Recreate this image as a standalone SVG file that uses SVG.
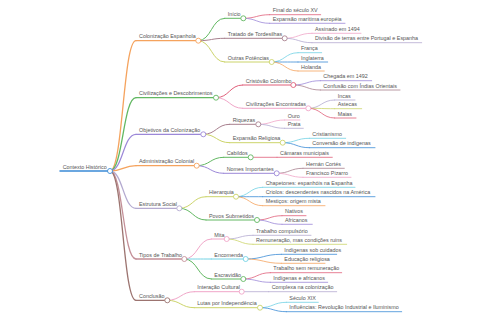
<svg xmlns="http://www.w3.org/2000/svg" width="480" height="320" viewBox="0 0 480 320">
<style>
text{font-family:"Liberation Sans",Arial,sans-serif;font-size:5.4px;fill:#555}
path,line{fill:none;stroke-linecap:round}
circle{fill:#fff;stroke-width:0.9}
.l1{stroke-width:1.3}.l2{stroke-width:1}.l3{stroke-width:0.8}
.bl{stroke:#3b8bd6}.or{stroke:#f5a35e}.gr{stroke:#62b862}.rd{stroke:#e0607a}.pu{stroke:#9c88d8}
.br{stroke:#a8808e}.pk{stroke:#f0a6c8}.gy{stroke:#b4aad0}.ol{stroke:#ccd46a}.cy{stroke:#72d2e4}
.tb{stroke:#c49098}.cb{stroke:#9c7470}
</style>
<rect width="480" height="320" fill="#fff"/>
<g id="connectors">
<path class="l1 or" d="M110 171C123 171 123 40.7 136 40.7"/>
<path class="l1 gr" d="M110 171C123 171 123 97.7 136 97.7"/>
<path class="l1 pu" d="M110 171C123 171 123 134.3 136 134.3"/>
<path class="l1 or" d="M110 171C123 171 123 165.7 136 165.7"/>
<path class="l1 gy" d="M110 171C123 171 123 208.3 136 208.3"/>
<path class="l1 tb" d="M110 171C123 171 123 259 136 259"/>
<path class="l1 cb" d="M110 171C123 171 123 300.3 136 300.3"/>
<path class="l2 gr" d="M198.3 40.7C211.5 40.7 211.5 18.3 224.7 18.3"/>
<path class="l2 br" d="M198.3 40.7C211.5 40.7 211.5 38.3 224.7 38.3"/>
<path class="l2 ol" d="M198.3 40.7C211.5 40.7 211.5 62 224.7 62"/>
<path class="l2 rd" d="M216 97.7C229.4 97.7 229.4 85 242.7 85"/>
<path class="l2 pk" d="M216 97.7C229.4 97.7 229.4 108.3 242.7 108.3"/>
<path class="l2 br" d="M203.3 134.3C216.5 134.3 216.5 124.3 229.7 124.3"/>
<path class="l2 ol" d="M203.3 134.3C216.5 134.3 216.5 142.7 229.7 142.7"/>
<path class="l2 gr" d="M196.7 165.7C210.2 165.7 210.2 157.3 223.7 157.3"/>
<path class="l2 pu" d="M196.7 165.7C210.2 165.7 210.2 173.3 223.7 173.3"/>
<path class="l2 ol" d="M179.3 208.3C192.7 208.3 192.7 196.7 206 196.7"/>
<path class="l2 gr" d="M179.3 208.3C192.7 208.3 192.7 220 206 220"/>
<path class="l2 pk" d="M184.3 259C197.8 259 197.8 239 211.3 239"/>
<path class="l2 cy" d="M184.3 259C197.8 259 197.8 259 211.3 259"/>
<path class="l2 gr" d="M184.3 259C197.8 259 197.8 279 211.3 279"/>
<path class="l2 pk" d="M167.3 300.3C180.8 300.3 180.8 291.7 194.3 291.7"/>
<path class="l2 ol" d="M167.3 300.3C180.8 300.3 180.8 307.7 194.3 307.7"/>
<path class="l3 rd" d="M243.3 18.3C256.5 18.3 256.5 14.7 269.7 14.7"/>
<path class="l3 pu" d="M243.3 18.3C256.5 18.3 256.5 23.3 269.7 23.3"/>
<path class="l3 pk" d="M284.7 38.3C298.4 38.3 298.4 33.3 312 33.3"/>
<path class="l3 gy" d="M284.7 38.3C298.4 38.3 298.4 42.7 312 42.7"/>
<path class="l3 cy" d="M271.7 62C284.9 62 284.9 52.7 298 52.7"/>
<path class="l3 bl" d="M271.7 62C284.9 62 284.9 62 298 62"/>
<path class="l3 or" d="M271.7 62C284.9 62 284.9 71 298 71"/>
<path class="l3 pu" d="M293.3 85C306.8 85 306.8 80.7 320.3 80.7"/>
<path class="l3 br" d="M293.3 85C306.8 85 306.8 90 320.3 90"/>
<path class="l3 gy" d="M308.3 108.3C321.5 108.3 321.5 100 334.7 100"/>
<path class="l3 ol" d="M308.3 108.3C321.5 108.3 321.5 108.7 334.7 108.7"/>
<path class="l3 rd" d="M308.3 108.3C321.5 108.3 321.5 118 334.7 118"/>
<path class="l3 pk" d="M258.3 124.3C271.5 124.3 271.5 120 284.7 120"/>
<path class="l3 gy" d="M258.3 124.3C271.5 124.3 271.5 128.3 284.7 128.3"/>
<path class="l3 cy" d="M282.7 142.7C296 142.7 296 138.3 309.3 138.3"/>
<path class="l3 bl" d="M282.7 142.7C296 142.7 296 147.7 309.3 147.7"/>
<path class="l3 rd" d="M250.7 157.3L277 157.3"/>
<path class="l3 br" d="M276.7 173.3C289.9 173.3 289.9 168.3 303 168.3"/>
<path class="l3 pk" d="M276.7 173.3C289.9 173.3 289.9 177.3 303 177.3"/>
<path class="l3 cy" d="M236 196.7C249.4 196.7 249.4 187.3 262.7 187.3"/>
<path class="l3 bl" d="M236 196.7C249.4 196.7 249.4 196.7 262.7 196.7"/>
<path class="l3 or" d="M236 196.7C249.4 196.7 249.4 205.7 262.7 205.7"/>
<path class="l3 rd" d="M257 220C269.5 220 269.5 215.7 282 215.7"/>
<path class="l3 pu" d="M257 220C269.5 220 269.5 224.3 282 224.3"/>
<path class="l3 gy" d="M226.7 239C239.9 239 239.9 235.3 253 235.3"/>
<path class="l3 ol" d="M226.7 239C239.9 239 239.9 244.3 253 244.3"/>
<path class="l3 bl" d="M245.7 259C263.5 259 263.5 254.3 281.3 254.3"/>
<path class="l3 or" d="M245.7 259C263.5 259 263.5 263.3 281.3 263.3"/>
<path class="l3 rd" d="M243.3 279C256.8 279 256.8 272.7 270.3 272.7"/>
<path class="l3 pu" d="M243.3 279C256.8 279 256.8 282.3 270.3 282.3"/>
<path class="l3 gy" d="M241.7 291.7L268.7 291.7"/>
<path class="l3 cy" d="M260 307.7C273.2 307.7 273.2 302.3 286.3 302.3"/>
<path class="l3 bl" d="M260 307.7C273.2 307.7 273.2 311.7 286.3 311.7"/>
</g>
<g id="root"><line class="bl" stroke-width="1.5" x1="60" y1="171" x2="110" y2="171"/><text x="62.7" y="168.6">Contexto Histórico</text><circle class="bl" cx="110" cy="171" r="2.5"/></g>
<g id="n-col"><line class="l1 or" x1="136" y1="40.7" x2="198.3" y2="40.7"/><text x="139" y="38.4">Colonização Espanhola</text><circle class="or" cx="198.3" cy="40.7" r="2.5"/></g>
<g id="n-ini"><line class="l2 gr" x1="224.7" y1="18.3" x2="243.3" y2="18.3"/><text x="227.7" y="16">Início</text><circle class="gr" cx="243.3" cy="18.3" r="2.5"/></g>
<g id="n-fin"><line class="l3 rd" x1="269.7" y1="14.7" x2="320.7" y2="14.7"/><text x="272.7" y="12.4">Final do século XV</text></g>
<g id="n-exp"><line class="l3 pu" x1="269.7" y1="23.3" x2="345" y2="23.3"/><text x="272.7" y="21">Expansão marítima européia</text></g>
<g id="n-tra"><line class="l2 br" x1="224.7" y1="38.3" x2="284.7" y2="38.3"/><text x="227.7" y="36">Tratado de Tordesilhas</text><circle class="br" cx="284.7" cy="38.3" r="2.5"/></g>
<g id="n-ass"><line class="l3 pk" x1="312" y1="33.3" x2="361" y2="33.3"/><text x="315" y="31">Assinado em 1494</text></g>
<g id="n-div"><line class="l3 gy" x1="312" y1="42.7" x2="421.7" y2="42.7"/><text x="315" y="40.4">Divisão de terras entre Portugal e Espanha</text></g>
<g id="n-out"><line class="l2 ol" x1="224.7" y1="62" x2="271.7" y2="62"/><text x="227.7" y="59.7">Outras Potências</text><circle class="ol" cx="271.7" cy="62" r="2.5"/></g>
<g id="n-fra"><line class="l3 cy" x1="298" y1="52.7" x2="321.7" y2="52.7"/><text x="301" y="50.4">França</text></g>
<g id="n-ing"><line class="l3 bl" x1="298" y1="62" x2="327.7" y2="62"/><text x="301" y="59.7">Inglaterra</text></g>
<g id="n-hol"><line class="l3 or" x1="298" y1="71" x2="324.3" y2="71"/><text x="301" y="68.7">Holanda</text></g>
<g id="n-civ"><line class="l1 gr" x1="136" y1="97.7" x2="216" y2="97.7"/><text x="139" y="95.4">Civilizações e Descobrimentos</text><circle class="gr" cx="216" cy="97.7" r="2.5"/></g>
<g id="n-cri"><line class="l2 rd" x1="242.7" y1="85" x2="293.3" y2="85"/><text x="245.7" y="82.7">Cristóvão Colombo</text><circle class="rd" cx="293.3" cy="85" r="2.5"/></g>
<g id="n-che"><line class="l3 pu" x1="320.3" y1="80.7" x2="371.7" y2="80.7"/><text x="323.3" y="78.4">Chegada em 1492</text></g>
<g id="n-cnf"><line class="l3 br" x1="320.3" y1="90" x2="400" y2="90"/><text x="323.3" y="87.7">Confusão com Índias Orientais</text></g>
<g id="n-ce"><line class="l2 pk" x1="242.7" y1="108.3" x2="308.3" y2="108.3"/><text x="245.7" y="106">Civilizações Encontradas</text><circle class="pk" cx="308.3" cy="108.3" r="2.5"/></g>
<g id="n-inc"><line class="l3 gy" x1="334.7" y1="100" x2="355" y2="100"/><text x="337.7" y="97.7">Incas</text></g>
<g id="n-ast"><line class="l3 ol" x1="334.7" y1="108.7" x2="361.7" y2="108.7"/><text x="337.7" y="106.4">Astecas</text></g>
<g id="n-mai"><line class="l3 rd" x1="334.7" y1="118" x2="356" y2="118"/><text x="337.7" y="115.7">Maias</text></g>
<g id="n-obj"><line class="l1 pu" x1="136" y1="134.3" x2="203.3" y2="134.3"/><text x="139" y="132">Objetivos da Colonização</text><circle class="pu" cx="203.3" cy="134.3" r="2.5"/></g>
<g id="n-riq"><line class="l2 br" x1="229.7" y1="124.3" x2="258.3" y2="124.3"/><text x="232.7" y="122">Riquezas</text><circle class="br" cx="258.3" cy="124.3" r="2.5"/></g>
<g id="n-our"><line class="l3 pk" x1="284.7" y1="120" x2="300" y2="120"/><text x="287.7" y="117.7">Ouro</text></g>
<g id="n-pra"><line class="l3 gy" x1="284.7" y1="128.3" x2="303.3" y2="128.3"/><text x="287.7" y="126">Prata</text></g>
<g id="n-er"><line class="l2 ol" x1="229.7" y1="142.7" x2="282.7" y2="142.7"/><text x="232.7" y="140.4">Expansão Religiosa</text><circle class="ol" cx="282.7" cy="142.7" r="2.5"/></g>
<g id="n-cris"><line class="l3 cy" x1="309.3" y1="138.3" x2="345.7" y2="138.3"/><text x="312.3" y="136">Cristianismo</text></g>
<g id="n-conv"><line class="l3 bl" x1="309.3" y1="147.7" x2="375" y2="147.7"/><text x="312.3" y="145.4">Conversão de indígenas</text></g>
<g id="n-adm"><line class="l1 or" x1="136" y1="165.7" x2="196.7" y2="165.7"/><text x="139" y="163.4">Administração Colonial</text><circle class="or" cx="196.7" cy="165.7" r="2.5"/></g>
<g id="n-cab"><line class="l2 gr" x1="223.7" y1="157.3" x2="250.7" y2="157.3"/><text x="226.7" y="155">Cabildos</text><circle class="gr" cx="250.7" cy="157.3" r="2.5"/></g>
<g id="n-cam"><line class="l3 rd" x1="277" y1="157.3" x2="332.3" y2="157.3"/><text x="280" y="155">Câmaras municipais</text></g>
<g id="n-nom"><line class="l2 pu" x1="223.7" y1="173.3" x2="276.7" y2="173.3"/><text x="226.7" y="171">Nomes Importantes</text><circle class="pu" cx="276.7" cy="173.3" r="2.5"/></g>
<g id="n-her"><line class="l3 br" x1="303" y1="168.3" x2="344.3" y2="168.3"/><text x="306" y="166">Hernán Cortés</text></g>
<g id="n-piz"><line class="l3 pk" x1="303" y1="177.3" x2="351" y2="177.3"/><text x="306" y="175">Francisco Pizarro</text></g>
<g id="n-est"><line class="l1 gy" x1="136" y1="208.3" x2="179.3" y2="208.3"/><text x="139" y="206">Estrutura Social</text><circle class="gy" cx="179.3" cy="208.3" r="2.5"/></g>
<g id="n-hie"><line class="l2 ol" x1="206" y1="196.7" x2="236" y2="196.7"/><text x="209" y="194.4">Hierarquia</text><circle class="ol" cx="236" cy="196.7" r="2.5"/></g>
<g id="n-chap"><line class="l3 cy" x1="262.7" y1="187.3" x2="355" y2="187.3"/><text x="265.7" y="185">Chapetones: espanhóis na Espanha</text></g>
<g id="n-crio"><line class="l3 bl" x1="262.7" y1="196.7" x2="375" y2="196.7"/><text x="265.7" y="194.4">Criolos: descendentes nascidos na América</text></g>
<g id="n-mes"><line class="l3 or" x1="262.7" y1="205.7" x2="325" y2="205.7"/><text x="265.7" y="203.4">Mestiços: origem mista</text></g>
<g id="n-pov"><line class="l2 gr" x1="206" y1="220" x2="257" y2="220"/><text x="209" y="217.7">Povos Submetidos</text><circle class="gr" cx="257" cy="220" r="2.5"/></g>
<g id="n-nat"><line class="l3 rd" x1="282" y1="215.7" x2="306" y2="215.7"/><text x="285" y="213.4">Nativos</text></g>
<g id="n-afr"><line class="l3 pu" x1="282" y1="224.3" x2="312.3" y2="224.3"/><text x="285" y="222">Africanos</text></g>
<g id="n-tip"><line class="l1 tb" x1="136" y1="259" x2="184.3" y2="259"/><text x="139" y="256.7">Tipos de Trabalho</text><circle class="tb" cx="184.3" cy="259" r="2.5"/></g>
<g id="n-mit"><line class="l2 pk" x1="211.3" y1="239" x2="226.7" y2="239"/><text x="214.3" y="236.7">Mita</text><circle class="pk" cx="226.7" cy="239" r="2.5"/></g>
<g id="n-tcomp"><line class="l3 gy" x1="253" y1="235.3" x2="311" y2="235.3"/><text x="256" y="233">Trabalho compulsório</text></g>
<g id="n-rem"><line class="l3 ol" x1="253" y1="244.3" x2="346.7" y2="244.3"/><text x="256" y="242">Remuneração, mas condições ruins</text></g>
<g id="n-enc"><line class="l2 cy" x1="211.3" y1="259" x2="245.7" y2="259"/><text x="214.3" y="256.7">Encomenda</text><circle class="cy" cx="245.7" cy="259" r="2.5"/></g>
<g id="n-isc"><line class="l3 bl" x1="281.3" y1="254.3" x2="336.7" y2="254.3"/><text x="284.3" y="252">Indígenas sob cuidados</text></g>
<g id="n-edu"><line class="l3 or" x1="281.3" y1="263.3" x2="325" y2="263.3"/><text x="284.3" y="261">Educação religiosa</text></g>
<g id="n-esc"><line class="l2 gr" x1="211.3" y1="279" x2="243.3" y2="279"/><text x="214.3" y="276.7">Escravidão</text><circle class="gr" cx="243.3" cy="279" r="2.5"/></g>
<g id="n-tsem"><line class="l3 rd" x1="270.3" y1="272.7" x2="341.7" y2="272.7"/><text x="273.3" y="270.4">Trabalho sem remuneração</text></g>
<g id="n-iea"><line class="l3 pu" x1="270.3" y1="282.3" x2="327.7" y2="282.3"/><text x="273.3" y="280">Indígenas e africanos</text></g>
<g id="n-con"><line class="l1 cb" x1="136" y1="300.3" x2="167.3" y2="300.3"/><text x="139" y="298">Conclusão</text><circle class="cb" cx="167.3" cy="300.3" r="2.5"/></g>
<g id="n-ic"><line class="l2 pk" x1="194.3" y1="291.7" x2="241.7" y2="291.7"/><text x="197.3" y="289.4">Interação Cultural</text><circle class="pk" cx="241.7" cy="291.7" r="2.5"/></g>
<g id="n-cpx"><line class="l3 gy" x1="268.7" y1="291.7" x2="336.7" y2="291.7"/><text x="271.7" y="289.4">Complexa na colonização</text></g>
<g id="n-lut"><line class="l2 ol" x1="194.3" y1="307.7" x2="260" y2="307.7"/><text x="197.3" y="305.4">Lutas por Independência</text><circle class="ol" cx="260" cy="307.7" r="2.5"/></g>
<g id="n-sec"><line class="l3 cy" x1="286.3" y1="302.3" x2="318.3" y2="302.3"/><text x="289.3" y="300">Século XIX</text></g>
<g id="n-inf"><line class="l3 bl" x1="286.3" y1="311.7" x2="401.7" y2="311.7"/><text x="289.3" y="309.4">Influências: Revolução Industrial e Iluminismo</text></g>
</svg>
